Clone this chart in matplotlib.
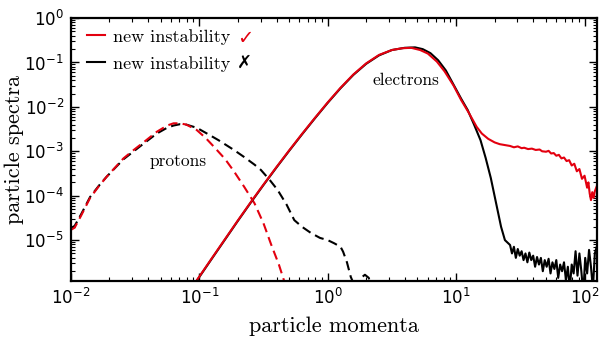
import numpy as np
import matplotlib
matplotlib.use("Agg")
import matplotlib.pyplot as plt

# ---------------------------------------------------------------------------
# Data (log10 of momentum, log10 of spectrum)
# ---------------------------------------------------------------------------
proton_new_logp = [-2.00, -1.97, -1.92, -1.85, -1.78, -1.72, -1.65, -1.59, -1.51, -1.43,
                   -1.33, -1.25, -1.20, -1.15, -1.10, -1.02, -0.95, -0.885, -0.80, -0.73,
                   -0.65, -0.57, -0.50, -0.44, -0.38, -0.33]
proton_new_logf = [-4.77, -4.72, -4.45, -4.05, -3.78, -3.57, -3.35, -3.16, -2.97, -2.79,
                   -2.56, -2.42, -2.37, -2.37, -2.40, -2.52, -2.70, -2.90, -3.17, -3.45,
                   -3.80, -4.17, -4.62, -5.10, -5.55, -6.00]

proton_old_logp = [-2.00, -1.97, -1.92, -1.85, -1.78, -1.72, -1.65, -1.59, -1.51, -1.43,
                   -1.33, -1.25, -1.20, -1.15, -1.10, -1.02, -0.94, -0.85, -0.73, -0.65,
                   -0.57, -0.52, -0.45, -0.39, -0.32, -0.26, -0.20, -0.13, -0.06, 0.00,
                   0.05, 0.10, 0.12, 0.15, 0.18, 0.22, 0.26, 0.29, 0.32, 0.35]
proton_old_logf = [-4.73, -4.68, -4.42, -4.03, -3.77, -3.57, -3.36, -3.18, -3.00, -2.82,
                   -2.60, -2.47, -2.42, -2.39, -2.40, -2.47, -2.60, -2.75, -2.97, -3.13,
                   -3.30, -3.42, -3.65, -3.87, -4.20, -4.55, -4.70, -4.84, -4.95, -5.00,
                   -5.07, -5.15, -5.26, -5.50, -5.83, -6.10, -5.85, -5.78, -5.85, -6.20]

electron_new_logp = [-1.03, -0.90, -0.80, -0.70, -0.60, -0.50, -0.40, -0.30, -0.20, -0.10,
                     0.00, 0.10, 0.20, 0.30, 0.40, 0.50, 0.58, 0.65, 0.72, 0.78,
                     0.85, 0.91, 0.98, 1.04, 1.10, 1.16, 1.20, 1.25, 1.30, 1.34,
                     1.38, 1.42, 1.45, 1.48, 1.51, 1.53, 1.56, 1.59, 1.62, 1.65,
                     1.67, 1.70, 1.72, 1.74, 1.76, 1.78, 1.80, 1.82, 1.84, 1.86,
                     1.88, 1.90, 1.92, 1.94, 1.96, 1.98, 2.00, 2.02, 2.03, 2.04,
                     2.05, 2.06, 2.07, 2.08, 2.10]
electron_new_logf = [-5.95, -5.40, -4.98, -4.56, -4.15, -3.75, -3.36, -2.98, -2.61, -2.25,
                     -1.90, -1.57, -1.27, -1.02, -0.83, -0.72, -0.68, -0.67, -0.72, -0.80,
                     -0.98, -1.20, -1.52, -1.85, -2.14, -2.45, -2.60, -2.72, -2.80, -2.84,
                     -2.86, -2.88, -2.91, -2.89, -2.93, -2.92, -2.95, -2.94, -2.97, -2.96,
                     -3.00, -3.01, -2.99, -3.05, -3.04, -3.10, -3.08, -3.16, -3.14, -3.22,
                     -3.20, -3.32, -3.28, -3.45, -3.40, -3.62, -3.55, -3.82, -3.70, -3.95,
                     -4.10, -3.92, -4.05, -3.90, -3.75]

electron_old_logp = [-1.03, -0.90, -0.80, -0.70, -0.60, -0.50, -0.40, -0.30, -0.20, -0.10,
                     0.00, 0.10, 0.20, 0.30, 0.40, 0.50, 0.60, 0.68, 0.74, 0.80,
                     0.86, 0.92, 0.98, 1.04, 1.09, 1.14, 1.19, 1.23, 1.27, 1.31,
                     1.35, 1.38, 1.42, 1.435, 1.45, 1.465, 1.48, 1.495, 1.51, 1.525,
                     1.54, 1.555, 1.57, 1.585, 1.60, 1.615, 1.63, 1.645, 1.66, 1.675,
                     1.69, 1.705, 1.72, 1.735, 1.75, 1.765, 1.78, 1.795, 1.81, 1.825,
                     1.84, 1.855, 1.87, 1.885, 1.90, 1.915, 1.93, 1.945, 1.96, 1.975,
                     1.99, 2.005, 2.02, 2.035, 2.05, 2.065, 2.08, 2.10]
electron_old_logf = [-5.96, -5.41, -4.99, -4.57, -4.16, -3.76, -3.37, -2.99, -2.62, -2.26,
                     -1.91, -1.58, -1.28, -1.03, -0.84, -0.72, -0.67, -0.66, -0.70, -0.79,
                     -0.95, -1.18, -1.50, -1.82, -2.07, -2.40, -2.75, -3.15, -3.60, -4.15,
                     -4.70, -5.00, -5.11, -5.30, -5.15, -5.40, -5.20, -5.35, -5.25, -5.45,
                     -5.30, -5.50, -5.28, -5.45, -5.35, -5.60, -5.38, -5.55, -5.40, -5.70,
                     -5.45, -5.60, -5.42, -5.75, -5.50, -5.65, -5.45, -5.85, -5.55, -5.70,
                     -5.50, -5.90, -5.60, -6.10, -5.55, -5.75, -5.25, -5.80, -5.30, -5.70,
                     -6.20, -5.40, -5.75, -5.22, -5.60, -6.10, -5.30, -5.10]

LABEL = "new instability"
RED = "#e3000f"

# ---------------------------------------------------------------------------
# Plot
# ---------------------------------------------------------------------------
fig = plt.figure(figsize=(6.0, 3.38), dpi=100)
ax = fig.add_axes([0.118, 0.1686, 0.877, 0.778])

p = lambda a: np.power(10.0, a)

ax.plot(p(proton_old_logp), p(proton_old_logf), color="black", lw=1.5, ls=(0, (4.5, 2.5)))
ax.plot(p(proton_new_logp), p(proton_new_logf), color=RED, lw=1.5, ls=(0, (4.5, 2.5)))
ax.plot(p(electron_old_logp), p(electron_old_logf), color="black", lw=1.5)
ax.plot(p(electron_new_logp), p(electron_new_logf), color=RED, lw=1.5)

ax.set_xscale("log")
ax.set_yscale("log")
ax.set_xlim(1e-2, 125)
ax.set_ylim(1.2e-6, 1.0)

ax.tick_params(which="both", direction="in", top=True, right=True, labelsize=12)
ax.tick_params(which="major", length=6, width=1.0, pad=5)
ax.tick_params(which="minor", length=3, width=0.8)
ax.yaxis.set_minor_locator(matplotlib.ticker.LogLocator(base=10, subs=np.arange(2, 10), numticks=20))
ax.xaxis.set_minor_locator(matplotlib.ticker.LogLocator(base=10, subs=np.arange(2, 10), numticks=20))
ax.yaxis.set_minor_formatter(matplotlib.ticker.NullFormatter())
ax.xaxis.set_minor_formatter(matplotlib.ticker.NullFormatter())
for s in ax.spines.values():
    s.set_linewidth(1.6)

ax.set_xlabel("particle momenta", fontfamily="cmr10", fontsize=16, labelpad=6)
ax.set_ylabel("particle spectra", fontfamily="cmr10", fontsize=16, labelpad=0)

ax.text(0.0686, 6.0e-4, "protons", fontfamily="cmr10", fontsize=12.5,
        ha="center", va="center")
ax.text(4.1, 4.0e-2, "electrons", fontfamily="cmr10", fontsize=12.5,
        ha="center", va="center")

h_new, = ax.plot([], [], color=RED, lw=1.5)
h_old, = ax.plot([], [], color="black", lw=1.5)
ax.legend([h_new, h_old], [LABEL, LABEL], loc="upper left", bbox_to_anchor=(0.01, 1.0),
          frameon=False, prop={"family": "cmr10", "size": 13}, handlelength=1.0,
          handletextpad=0.45, labelspacing=0.62, borderaxespad=0.2)

ax.text(0.316, 0.924, "\u2713", transform=ax.transAxes, color=RED, fontsize=14,
        fontweight="bold", ha="left", va="center", fontfamily="DejaVu Sans")
ax.text(0.316, 0.829, "\u2717", transform=ax.transAxes, color="black", fontsize=13,
        fontweight="bold", ha="left", va="center", fontfamily="DejaVu Sans")

fig.savefig("out.png", dpi=100)
